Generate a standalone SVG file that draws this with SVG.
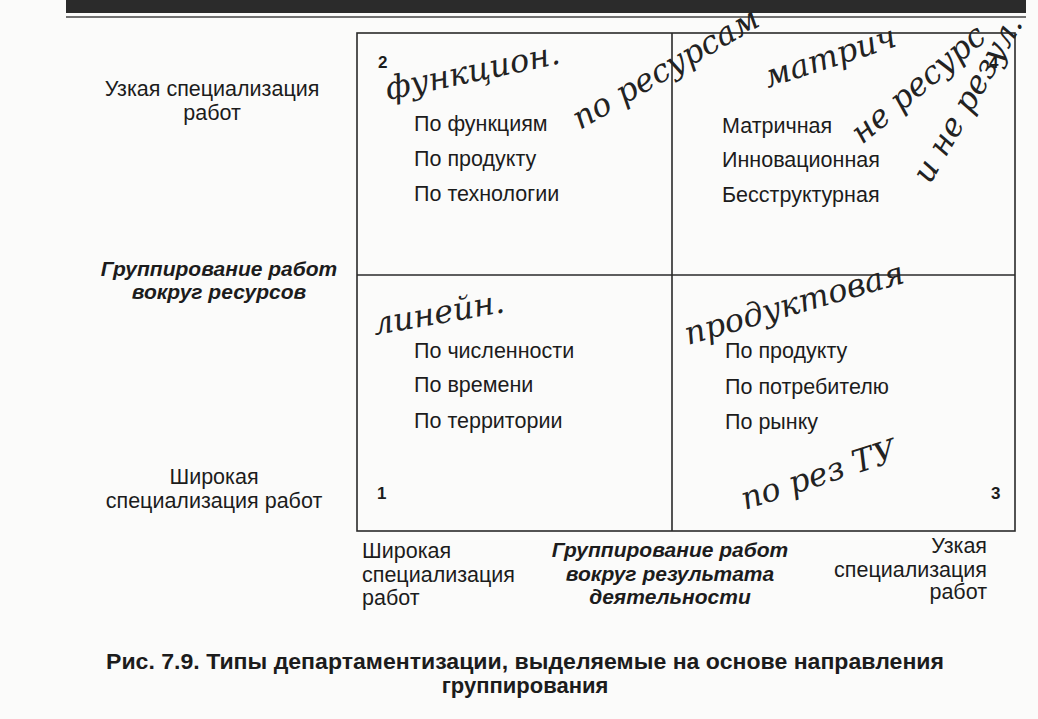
<svg xmlns="http://www.w3.org/2000/svg" width="1038" height="719" viewBox="0 0 1038 719">
<style>
text{font-family:"Liberation Sans",Arial,sans-serif;fill:#1c1c1c}
.t{font-size:21.5px}
.bi{font-size:21px;font-weight:bold;font-style:italic}
.num{font-size:17px;font-weight:bold}
.cap{font-size:22px;font-weight:bold}
.hw{font-family:"DejaVu Serif",serif;font-style:italic;font-size:32px;fill:#222}
.grid{fill:none;stroke:#2a2a2a;stroke-width:1.6}
</style>
<rect width="1038" height="719" fill="#fbfbfa"/>
<g id="header-rule">
<rect x="66" y="0" width="960" height="13" fill="#2b2b2b"/>
<line x1="66" y1="17" x2="1026" y2="17" stroke="#444" stroke-width="1.5"/>
</g>
<g id="matrix" class="grid">
<rect x="357" y="33" width="658" height="498"/>
<line x1="672" y1="33" x2="672" y2="531"/>
<line x1="357" y1="275" x2="1015" y2="275"/>
</g>
<g id="connectors"></g>
<g id="cell-2">
<text class="num" x="378" y="68">2</text>
<text class="t" x="414" y="131">По функциям</text>
<text class="t" x="414" y="166">По продукту</text>
<text class="t" x="414" y="201">По технологии</text>
</g>
<g id="cell-4">
<text class="num" x="989" y="68">4</text>
<text class="t" x="722" y="133">Матричная</text>
<text class="t" x="722" y="167">Инновационная</text>
<text class="t" x="722" y="202">Бесструктурная</text>
</g>
<g id="cell-1">
<text class="num" x="377" y="499">1</text>
<text class="t" x="414" y="358">По численности</text>
<text class="t" x="414" y="392">По времени</text>
<text class="t" x="414" y="428">По территории</text>
</g>
<g id="cell-3">
<text class="num" x="991" y="499">3</text>
<text class="t" x="725" y="358">По продукту</text>
<text class="t" x="725" y="394">По потребителю</text>
<text class="t" x="725" y="429">По рынку</text>
</g>
<g id="axis-left" text-anchor="middle">
<text class="t" x="212" y="96">Узкая специализация</text>
<text class="t" x="212" y="120">работ</text>
<text class="bi" x="219" y="276">Группирование работ</text>
<text class="bi" x="219" y="299">вокруг ресурсов</text>
<text class="t" x="214" y="484">Широкая</text>
<text class="t" x="214" y="508">специализация работ</text>
</g>
<g id="axis-bottom">
<text class="t" x="362" y="558">Широкая</text>
<text class="t" x="362" y="582">специализация</text>
<text class="t" x="362" y="605">работ</text>
<text class="bi" x="670" y="557" text-anchor="middle">Группирование работ</text>
<text class="bi" x="670" y="581" text-anchor="middle">вокруг результата</text>
<text class="bi" x="670" y="604" text-anchor="middle">деятельности</text>
<text class="t" x="987" y="553" text-anchor="end">Узкая</text>
<text class="t" x="987" y="577" text-anchor="end">специализация</text>
<text class="t" x="987" y="599" text-anchor="end">работ</text>
</g>
<g id="caption">
<text class="cap" x="106" y="669" textLength="838" lengthAdjust="spacingAndGlyphs">Рис. 7.9.  Типы департаментизации, выделяемые на основе направления</text>
<text class="cap" x="525" y="693" text-anchor="middle">группирования</text>
</g>
<g id="handwriting">
<text class="hw" transform="translate(388,100) rotate(-12)">функцион.</text>
<text class="hw" font-size="19" transform="translate(580,130) rotate(-30)">по ресурсам</text>
<text class="hw" font-size="26" transform="translate(768,88) rotate(-18)">матрич</text>
<text class="hw" font-size="17" transform="translate(862,145) rotate(-40)">не ресурс</text>
<text class="hw" font-size="19" transform="translate(930,185) rotate(-60)">и не резул.</text>
<text class="hw" transform="translate(375,335) rotate(-10)">линейн.</text>
<text class="hw" transform="translate(688,345) rotate(-16)">продуктовая</text>
<text class="hw" transform="translate(745,510) rotate(-18)">по рез ТУ</text>
</g>
</svg>
